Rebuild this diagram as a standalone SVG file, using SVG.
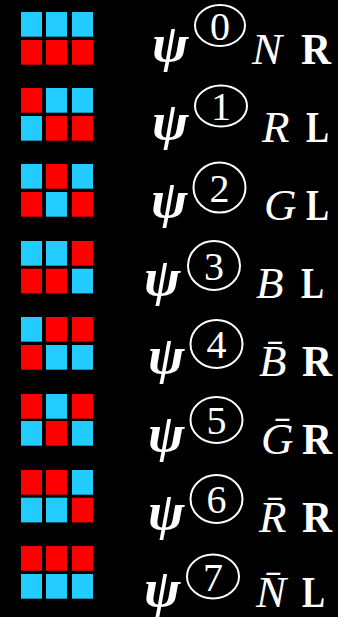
<svg xmlns="http://www.w3.org/2000/svg" width="338" height="617" viewBox="0 0 338 617">
<style>
.c{fill:#22CCFF}.r{fill:#FF0000}
.psi{font-family:"Liberation Serif",serif;font-weight:bold;font-style:italic;font-size:52px;fill:#fff}
.it{font-family:"Liberation Serif",serif;font-style:italic;font-size:45px;fill:#fff}
.bd{font-family:"Liberation Serif",serif;font-weight:bold;font-size:44px;fill:#fff}
.dg{font-family:"Liberation Serif",serif;font-size:40px;fill:#fff;text-anchor:middle}
.ring{fill:none;stroke:#fff;stroke-width:2}
</style>
<rect width="338" height="617" fill="#000"/>
<g id="row0">
<rect class="c" x="21" y="12" width="21" height="24.7"/><rect class="c" x="46" y="12" width="21" height="24.7"/><rect class="c" x="72" y="12" width="21" height="24.7"/>
<rect class="r" x="21" y="40" width="21" height="24.7"/><rect class="r" x="46" y="40" width="21" height="24.7"/><rect class="r" x="72" y="40" width="21" height="24.7"/>
<text class="psi" transform="translate(152,61) scale(1.05,1)">ψ</text>
<ellipse class="ring" cx="220" cy="25.5" rx="25" ry="20.5"/>
<text class="dg" x="220" y="39.5">0</text>
<text class="it" x="252" y="64">N</text>
<text class="bd" x="301" y="64" textLength="30" lengthAdjust="spacingAndGlyphs">R</text>
</g>
<g id="row1">
<rect class="r" x="21" y="88" width="21" height="24.7"/><rect class="c" x="46" y="88" width="21" height="24.7"/><rect class="c" x="72" y="88" width="21" height="24.7"/>
<rect class="c" x="21" y="116" width="21" height="24.7"/><rect class="r" x="46" y="116" width="21" height="24.7"/><rect class="r" x="72" y="116" width="21" height="24.7"/>
<text class="psi" transform="translate(152,139) scale(1.05,1)">ψ</text>
<ellipse class="ring" cx="221" cy="106" rx="26" ry="20.5"/>
<text class="dg" x="221" y="120">1</text>
<text class="it" x="262" y="142">R</text>
<text class="bd" x="306" y="142" textLength="23" lengthAdjust="spacingAndGlyphs">L</text>
</g>
<g id="row2">
<rect class="c" x="21" y="164" width="21" height="24.7"/><rect class="r" x="46" y="164" width="21" height="24.7"/><rect class="c" x="72" y="164" width="21" height="24.7"/>
<rect class="r" x="21" y="192" width="21" height="24.7"/><rect class="c" x="46" y="192" width="21" height="24.7"/><rect class="r" x="72" y="192" width="21" height="24.7"/>
<text class="psi" transform="translate(151,217) scale(1.05,1)">ψ</text>
<ellipse class="ring" cx="219.5" cy="187.5" rx="26" ry="25"/>
<text class="dg" x="219.5" y="201.5">2</text>
<text class="it" x="264" y="220">G</text>
<text class="bd" x="306" y="220" textLength="23" lengthAdjust="spacingAndGlyphs">L</text>
</g>
<g id="row3">
<rect class="c" x="21" y="241" width="21" height="24.7"/><rect class="c" x="46" y="241" width="21" height="24.7"/><rect class="r" x="72" y="241" width="21" height="24.7"/>
<rect class="r" x="21" y="268.7" width="21" height="24.7"/><rect class="r" x="46" y="268.7" width="21" height="24.7"/><rect class="c" x="72" y="268.7" width="21" height="24.7"/>
<text class="psi" transform="translate(144,295) scale(1.05,1)">ψ</text>
<ellipse class="ring" cx="214" cy="265.5" rx="26" ry="24.5"/>
<text class="dg" x="214" y="279.5">3</text>
<text class="it" x="256" y="298">B</text>
<text class="bd" x="301" y="298" textLength="23" lengthAdjust="spacingAndGlyphs">L</text>
</g>
<g id="row4">
<rect class="c" x="21" y="317" width="21" height="24.7"/><rect class="r" x="46" y="317" width="21" height="24.7"/><rect class="r" x="72" y="317" width="21" height="24.7"/>
<rect class="r" x="21" y="345" width="21" height="24.7"/><rect class="c" x="46" y="345" width="21" height="24.7"/><rect class="c" x="72" y="345" width="21" height="24.7"/>
<text class="psi" transform="translate(148,373) scale(1.05,1)">ψ</text>
<ellipse class="ring" cx="216.5" cy="344" rx="26" ry="24"/>
<text class="dg" x="216.5" y="358">4</text>
<text class="it" x="259" y="376">B&#x304;</text>
<text class="bd" x="302" y="376" textLength="30" lengthAdjust="spacingAndGlyphs">R</text>
</g>
<g id="row5">
<rect class="r" x="21" y="394" width="21" height="24.7"/><rect class="c" x="46" y="394" width="21" height="24.7"/><rect class="r" x="72" y="394" width="21" height="24.7"/>
<rect class="c" x="21" y="421" width="21" height="24.7"/><rect class="r" x="46" y="421" width="21" height="24.7"/><rect class="c" x="72" y="421" width="21" height="24.7"/>
<text class="psi" transform="translate(148,451) scale(1.05,1)">ψ</text>
<ellipse class="ring" cx="216.5" cy="420" rx="26" ry="23"/>
<text class="dg" x="216.5" y="434">5</text>
<text class="it" x="261" y="454">G&#x304;</text>
<text class="bd" x="302" y="454" textLength="30" lengthAdjust="spacingAndGlyphs">R</text>
</g>
<g id="row6">
<rect class="r" x="21" y="470" width="21" height="24.7"/><rect class="r" x="46" y="470" width="21" height="24.7"/><rect class="c" x="72" y="470" width="21" height="24.7"/>
<rect class="c" x="21" y="497.7" width="21" height="24.7"/><rect class="c" x="46" y="497.7" width="21" height="24.7"/><rect class="r" x="72" y="497.7" width="21" height="24.7"/>
<text class="psi" transform="translate(148,529) scale(1.05,1)">ψ</text>
<ellipse class="ring" cx="216.5" cy="499" rx="26" ry="24"/>
<text class="dg" x="216.5" y="513">6</text>
<text class="it" x="259" y="532">R&#x304;</text>
<text class="bd" x="302" y="532" textLength="30" lengthAdjust="spacingAndGlyphs">R</text>
</g>
<g id="row7">
<rect class="r" x="21" y="546" width="21" height="24.7"/><rect class="r" x="46" y="546" width="21" height="24.7"/><rect class="r" x="72" y="546" width="21" height="24.7"/>
<rect class="c" x="21" y="574" width="21" height="24.7"/><rect class="c" x="46" y="574" width="21" height="24.7"/><rect class="c" x="72" y="574" width="21" height="24.7"/>
<text class="psi" transform="translate(144,606) scale(1.05,1)">ψ</text>
<ellipse class="ring" cx="213" cy="576.5" rx="26" ry="22"/>
<text class="dg" x="213" y="590.5">7</text>
<text class="it" x="256" y="607">N&#x304;</text>
<text class="bd" x="302" y="607" textLength="23" lengthAdjust="spacingAndGlyphs">L</text>
</g>
<g id="connectors"/>
</svg>
